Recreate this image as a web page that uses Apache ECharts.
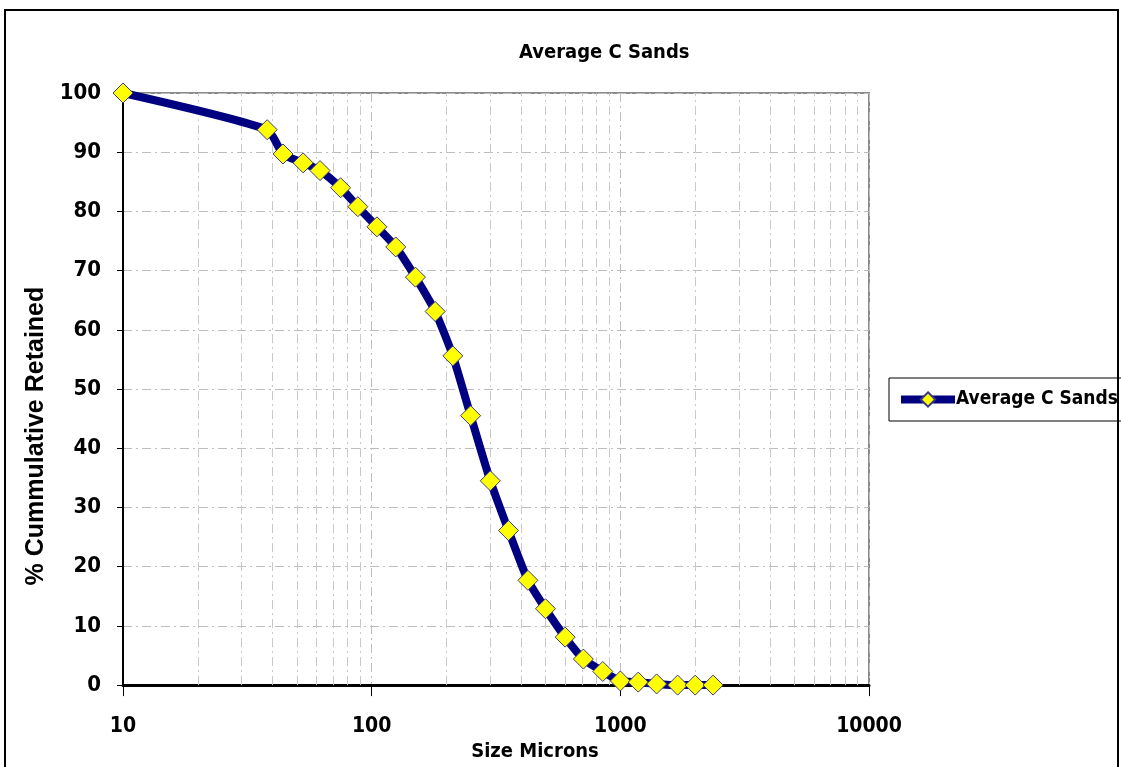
<!DOCTYPE html>
<html>
<head>
    <meta charset="utf-8" />
    <title>Average C Sands</title>
    <style>
        html, body { margin: 0; padding: 0; background: #fff; }
    </style>
</head>
<body>
<script src="https://cdn.jsdelivr.net/npm/echarts@6.0.0/dist/echarts.min.js"></script>
<div id="main" style="width: 1121px;height:767px;"></div>
<script type="text/javascript">
    // sieve sizes (microns) and % cumulative retained
    var sizes = [10, 38, 44, 53, 62, 75, 88, 105, 125, 150, 180, 212, 250, 300, 355, 425, 500, 600, 710, 850, 1000, 1180, 1400, 1700, 2000, 2360];
    var retained = [100, 93.8, 89.7, 88.2, 86.9, 84.0, 80.8, 77.4, 74.0, 68.9, 63.1, 55.6, 45.5, 34.5, 26.1, 17.7, 12.9, 8.1, 4.4, 2.3, 0.7, 0.5, 0.2, 0, 0, 0];
    // minor log grid lines
    var minorLines = [20, 30, 40, 50, 60, 70, 80, 90, 200, 300, 400, 500, 600, 700, 800, 900, 2000, 3000, 4000, 5000, 6000, 7000, 8000, 9000];

    var narrow = '"Liberation Sans Narrow", "DejaVu Sans Condensed", sans-serif';
    var dashDot = [9, 4, 2, 4];

    var myChart = echarts.init(document.getElementById('main'));

    var option = {
        animation: false,
        backgroundColor: '#fff',
        title: {
            text: 'Average C Sands',
            left: 514,
            top: 38,
            textStyle: { fontFamily: narrow, fontSize: 20, fontWeight: 'bold', color: '#000' }
        },
        legend: {
            left: 889,
            top: 378,
            width: 229,
            height: 46,
            padding: [12, 4, 12, 8],
            borderColor: '#000',
            borderWidth: 1,
            itemWidth: 54,
            itemHeight: 18,
            itemGap: 2,
            lineStyle: { width: 8 },
            textStyle: { fontFamily: narrow, fontSize: 19, fontWeight: 'bold', color: '#000', padding: [0, 0, 0, -4] },
            data: ['Average C Sands']
        },
        graphic: [{
            type: 'rect',
            shape: { x: 5, y: 10, width: 1113, height: 780 },
            style: { fill: null, stroke: '#000', lineWidth: 2 },
            silent: true,
            z: -1
        }],
        grid: {
            left: 123,
            right: 252,
            top: 93,
            bottom: 80,
            show: true,
            borderColor: '#8a8a8a',
            borderWidth: 2
        },
        xAxis: {
            type: 'log',
            logBase: 10,
            min: 10,
            max: 10000,
            name: 'Size Microns',
            nameLocation: 'middle',
            nameGap: 45,
            nameTextStyle: { fontFamily: narrow, fontSize: 20, fontWeight: 'bold', color: '#000', padding: [0, 0, 0, 78] },
            axisLine: { lineStyle: { color: '#000', width: 3 } },
            axisTick: { show: true, length: 11, lineStyle: { color: '#000', width: 1 } },
            axisLabel: {
                fontFamily: narrow, fontSize: 21, fontWeight: 'bold', color: '#000', margin: 31,
                formatter: function (v) { return String(Math.round(v)); }
            },
            splitLine: { show: true, lineStyle: { color: '#bdbdbd', type: dashDot, width: 1 } },
            minorTick: { show: false },
            minorSplitLine: { show: false }
        },
        yAxis: {
            type: 'value',
            min: 0,
            max: 100,
            interval: 10,
            name: '% Cummulative Retained',
            nameLocation: 'middle',
            nameGap: 73,
            nameTextStyle: {
                fontFamily: '"Liberation Sans", "DejaVu Sans", sans-serif', fontSize: 25, fontWeight: 'bold', color: '#000',
                padding: [0, 94, 0, 0]
            },
            axisLine: { show: true, lineStyle: { color: '#000', width: 2 } },
            axisTick: { show: true, length: 6, inside: false, lineStyle: { color: '#000' } },
            axisLabel: { fontFamily: narrow, fontSize: 22, fontWeight: 'bold', color: '#000', margin: 22 },
            splitLine: { show: true, lineStyle: { color: '#bdbdbd', type: dashDot, width: 1 } }
        },
        series: [
            {
                name: 'grid',
                type: 'line',
                data: [],
                silent: true,
                markLine: {
                    silent: true,
                    symbol: 'none',
                    label: { show: false },
                    lineStyle: { color: '#c8c8c8', type: dashDot, width: 1 },
                    data: minorLines.map(function (v) { return { xAxis: v }; })
                }
            },
            {
                name: 'Average C Sands',
                type: 'line',
                data: sizes.map(function (s, i) { return [s, retained[i]]; }),
                smooth: 0.2,
                symbol: 'diamond',
                symbolSize: 20,
                lineStyle: { color: '#000080', width: 8 },
                itemStyle: { color: '#ffff00', borderColor: '#3a3a8a', borderWidth: 1 },
                z: 5
            }
        ]
    };

    myChart.setOption(option);
</script>
</body>
</html>
